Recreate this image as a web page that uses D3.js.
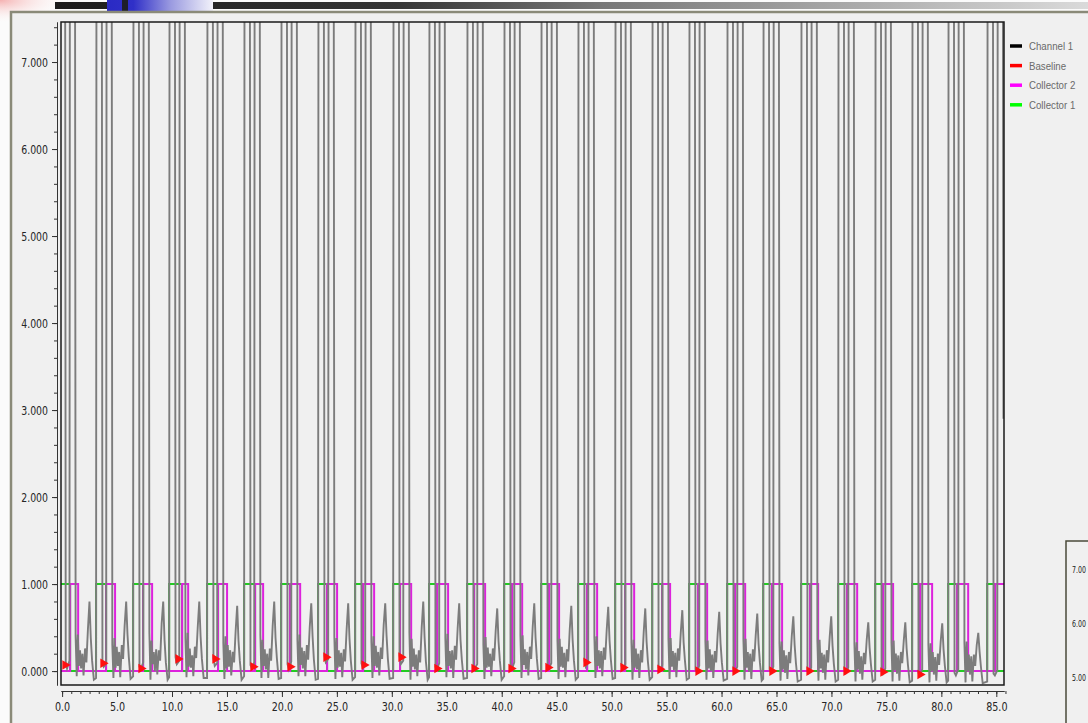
<!DOCTYPE html>
<html><head><meta charset="utf-8">
<script src="https://cdn.jsdelivr.net/npm/d3@7"></script>
<style>
html,body{margin:0;padding:0;background:#fff;}
svg{display:block;}
</style></head><body>
<svg id="chart" width="1088" height="723"></svg>
<script>
// ---------- data ----------
const yTickValues = [0, 1, 2, 3, 4, 5, 6, 7];
const xTickValues = [0, 5, 10, 15, 20, 25, 30, 35, 40, 45, 50, 55, 60, 65, 70, 75, 80, 85];
const legendNames = ["Channel 1", "Baseline", "Collector 2", "Collector 1"];
const legendColors = ["#000000", "#ff0000", "#ff00ff", "#00ff00"];
const insetLabels = ["7.00", "6.00", "5.00"];

// start of each collection cycle (Collector 1 switching on)
const cycleStart = [-0.25, 3.09, 6.46, 9.74, 13.19, 16.56, 19.93, 23.29, 26.66, 30.12, 33.39, 36.85, 40.22,
  43.59, 46.95, 50.32, 53.69, 57.05, 60.51, 63.79, 67.24, 70.61, 73.98, 77.34, 80.62, 84.17];
const collector1Off = [0.73, 4.00, 7.37, 10.92, 14.19, 17.56, 20.75, 24.11, 27.39, 30.75, 34.12, 37.49, 40.95,
  44.31, 47.77, 51.23, 54.60, 57.87, 61.24, 64.60, 68.06, 71.43, 74.70, 78.07, 81.44, 84.90];
const collector2Off = [1.46, 4.82, 8.19, 11.47, 15.01, 18.29, 21.66, 25.02, 28.39, 31.76, 35.12, 38.49, 41.86,
  45.22, 48.68, 52.05, 55.32, 58.69, 62.15, 65.51, 68.79, 72.34, 75.61, 79.16, 82.44, 85.80];

// sample times inside a cycle (relative to its start) for Channel 1 readings
const sampleOffsets = [0.00, 0.04, 0.52, 0.58, 0.70, 0.92, 0.96, 1.42, 1.48, 1.58, 1.68, 1.78, 1.88, 1.98,
  2.10, 2.20, 2.34, 2.46, 2.60, 2.74, 2.86, 2.98, 3.14];
// Channel 1 readings, one row per cycle (values above 7.46 run off the top of the chart)
const channel1 = [
  [-0.08,9,9,0.10,0.03,0.12,9,9,0.40,-0.06,0.42,0.06,0.24,0.03,0.20,-0.05,0.26,0.10,0.48,0.80,0.38,0.12,-0.10],
  [-0.08,9,9,0.12,0.05,0.08,9,9,0.30,-0.08,0.38,0.04,0.28,0.06,0.22,-0.07,0.30,0.14,0.52,0.80,0.42,0.16,-0.09],
  [-0.06,9,9,0.05,0.02,0.10,9,9,0.45,-0.10,0.35,0.08,0.22,0.00,0.25,-0.04,0.24,0.12,0.55,0.80,0.36,0.10,-0.10],
  [-0.07,9,9,0.16,0.08,0.12,9,9,0.38,-0.07,0.44,0.05,0.26,0.04,0.18,-0.06,0.28,0.15,0.50,0.80,0.40,0.14,-0.08],
  [-0.08,9,9,0.15,0.06,0.09,9,9,0.32,-0.09,0.40,0.03,0.30,0.05,0.24,-0.05,0.22,0.10,0.46,0.75,0.35,0.12,-0.10],
  [-0.06,9,9,0.07,0.03,0.10,9,9,0.42,-0.08,0.36,0.06,0.25,0.02,0.20,-0.08,0.26,0.12,0.52,0.80,0.38,0.15,-0.09],
  [-0.08,9,9,0.08,0.02,0.11,9,9,0.36,-0.06,0.42,0.07,0.27,0.03,0.23,-0.06,0.30,0.13,0.50,0.78,0.40,0.13,-0.10],
  [-0.09,9,9,0.18,0.10,0.14,9,9,0.40,-0.09,0.38,0.04,0.24,0.05,0.21,-0.07,0.25,0.11,0.48,0.78,0.37,0.12,-0.10],
  [-0.07,9,9,0.09,0.04,0.10,9,9,0.34,-0.08,0.40,0.06,0.29,0.04,0.22,-0.05,0.27,0.14,0.53,0.78,0.41,0.14,-0.09],
  [-0.08,9,9,0.18,0.08,0.12,9,9,0.44,-0.10,0.37,0.05,0.26,0.02,0.19,-0.06,0.24,0.10,0.50,0.80,0.39,0.11,-0.10],
  [-0.07,9,9,0.05,0.02,0.09,9,9,0.38,-0.07,0.43,0.06,0.23,0.03,0.24,-0.08,0.29,0.13,0.49,0.78,0.36,0.13,-0.09],
  [-0.08,9,9,0.05,0.03,0.08,9,9,0.30,-0.09,0.39,0.04,0.27,0.05,0.20,-0.06,0.26,0.12,0.46,0.72,0.34,0.12,-0.10],
  [-0.06,9,9,0.05,0.02,0.10,9,9,0.41,-0.08,0.41,0.07,0.25,0.02,0.22,-0.05,0.28,0.14,0.51,0.78,0.38,0.14,-0.09],
  [-0.08,9,9,0.06,0.03,0.09,9,9,0.35,-0.09,0.37,0.05,0.28,0.04,0.21,-0.07,0.25,0.11,0.48,0.75,0.36,0.12,-0.10],
  [-0.07,9,9,0.12,0.05,0.10,9,9,0.39,-0.08,0.40,0.06,0.24,0.03,0.23,-0.06,0.27,0.13,0.47,0.74,0.35,0.13,-0.09],
  [-0.08,9,9,0.06,0.02,0.08,9,9,0.33,-0.10,0.36,0.04,0.26,0.02,0.20,-0.08,0.24,0.10,0.45,0.72,0.34,0.11,-0.10],
  [-0.07,9,9,0.04,0.01,0.07,9,9,0.37,-0.09,0.38,0.05,0.23,0.01,0.21,-0.07,0.26,0.12,0.44,0.70,0.33,0.12,-0.10],
  [-0.08,9,9,0.02,0.00,0.06,9,9,0.34,-0.10,0.35,0.03,0.25,0.00,0.19,-0.08,0.23,0.10,0.43,0.68,0.32,0.10,-0.11],
  [-0.09,9,9,0.02,-0.01,0.05,9,9,0.36,-0.10,0.37,0.04,0.22,-0.01,0.20,-0.09,0.25,0.11,0.41,0.66,0.31,0.10,-0.11],
  [-0.09,9,9,0.02,-0.01,0.05,9,9,0.32,-0.11,0.34,0.02,0.24,-0.02,0.18,-0.09,0.22,0.09,0.40,0.63,0.30,0.09,-0.12],
  [-0.10,9,9,0.02,-0.02,0.04,9,9,0.35,-0.11,0.36,0.03,0.21,-0.02,0.19,-0.10,0.24,0.10,0.39,0.63,0.29,0.08,-0.12],
  [-0.10,9,9,0.02,-0.02,0.04,9,9,0.31,-0.12,0.33,0.02,0.23,-0.03,0.17,-0.10,0.21,0.08,0.36,0.56,0.27,0.08,-0.12],
  [-0.10,9,9,0.01,-0.03,0.03,9,9,0.33,-0.12,0.35,0.01,0.20,-0.03,0.18,-0.11,0.22,0.09,0.35,0.56,0.26,0.07,-0.13],
  [-0.11,9,9,-0.02,-0.04,0.02,9,9,0.30,-0.13,0.32,0.00,0.22,-0.04,0.16,-0.11,0.20,0.07,0.34,0.55,0.25,0.06,-0.13],
  [-0.11,9,9,-0.02,-0.05,0.02,9,9,0.32,-0.13,0.34,0.00,0.19,-0.04,0.17,-0.12,0.19,0.06,0.30,0.44,0.22,0.05,-0.14],
  [-0.12,9,9,-0.03,-0.05,0.01,9,9,2.90,null,null,null,null,null,null,null,null,null,null,null,null,null,null]
];

// Baseline markers
const baselineT = [0.27, 3.73, 7.19, 10.56, 13.92, 17.38, 20.75, 24.02, 27.48, 30.85, 34.12, 37.49, 40.86,
  44.22, 47.68, 51.05, 54.41, 57.87, 61.24, 64.60, 67.97, 71.34, 74.70, 78.07];
const baselineV = [0.07, 0.09, 0.03, 0.14, 0.14, 0.05, 0.05, 0.16, 0.07, 0.16, 0.03, 0.03, 0.03,
  0.04, 0.10, 0.04, 0.02, 0.00, 0.00, 0.00, 0.00, 0.00, -0.01, -0.04];

// ---------- layout ----------
const W = 1088, H = 723;
const plot = {left: 61, right: 1004, top: 22, bottom: 685};
const x = d3.scaleLinear().domain([-0.1, 85.7]).range([plot.left, plot.right]);
const y = d3.scaleLinear().domain([-0.16, 7.46]).range([plot.bottom, plot.top]);
const FONT = "'DejaVu Sans Condensed','Liberation Sans Narrow',sans-serif";
const LEGEND_FONT = "'Liberation Sans',Arial,sans-serif";

// squeeze text horizontally (the original uses a narrow UI font)
function squeeze(sel, f) {
  sel.each(function () {
    const w = this.getComputedTextLength();
    this.setAttribute("textLength", (w * f).toFixed(2));
    this.setAttribute("lengthAdjust", "spacingAndGlyphs");
  });
}

const svg = d3.select("#chart");
const defs = svg.append("defs");

// page background & decorations
svg.append("rect").attr("width", W).attr("height", H).attr("fill", "#fbfbfb");
const pink = defs.append("radialGradient").attr("id", "pink").attr("cx", 0).attr("cy", 0).attr("r", 1)
  .attr("gradientUnits", "objectBoundingBox");
pink.append("stop").attr("offset", "0%").attr("stop-color", "#f4a8a8").attr("stop-opacity", 0.9);
pink.append("stop").attr("offset", "100%").attr("stop-color", "#ffffff").attr("stop-opacity", 0);
svg.append("rect").attr("x", 0).attr("y", 0).attr("width", 70).attr("height", 24).attr("fill", "url(#pink)");

const bar = defs.append("linearGradient").attr("id", "bar");
[[0, "#1c1c1c"], [0.33, "#343434"], [0.53, "#777777"], [1, "#dadada"]].forEach(s =>
  bar.append("stop").attr("offset", s[0]).attr("stop-color", s[1]));
svg.append("rect").attr("x", 55).attr("y", 2).attr("width", W - 55).attr("height", 7).attr("fill", "url(#bar)");
const blue = defs.append("linearGradient").attr("id", "blue");
[[0, "#2a2ac4"], [0.25, "#3030c8"], [0.6, "#9a9ae0"], [1, "#f2f2fa"]].forEach(s =>
  blue.append("stop").attr("offset", s[0]).attr("stop-color", s[1]));
svg.append("rect").attr("x", 107).attr("y", 0).attr("width", 106).attr("height", 11).attr("fill", "url(#blue)");
svg.append("rect").attr("x", 122).attr("y", 0).attr("width", 6).attr("height", 11).attr("fill", "#1e1e2a");

// panel
svg.append("rect").attr("x", 11).attr("y", 12).attr("width", W - 11).attr("height", H - 12).attr("fill", "#f0f0f0");
svg.append("path").attr("d", `M11,${H}V12H${W}`).attr("fill", "none").attr("stroke", "#8a8a78").attr("stroke-width", 2.5);

// clip
defs.append("clipPath").attr("id", "clip").append("rect")
  .attr("x", plot.left).attr("y", plot.top).attr("width", plot.right - plot.left).attr("height", plot.bottom - plot.top);

const g = svg.append("g").attr("clip-path", "url(#clip)");
const line = d3.line().defined(d => d[1] !== null).x(d => x(d[0])).y(d => y(d[1]));

// collectors (step traces)
function stepPoints(onArr, offArr) {
  const pts = [[-0.1, 0]];
  onArr.forEach((on, i) => { pts.push([on, 0], [on, 1], [offArr[i], 1], [offArr[i], 0]); });
  pts.push([85.7, 0]);
  return pts;
}
g.append("path").attr("d", line(stepPoints(cycleStart, collector1Off)))
  .attr("fill", "none").attr("stroke", "#22cc22").attr("stroke-width", 2);
g.append("path").attr("d", line(stepPoints(collector1Off, collector2Off)))
  .attr("fill", "none").attr("stroke", "#dd22dd").attr("stroke-width", 2);

// Channel 1
const chPts = [];
channel1.forEach((row, i) => row.forEach((v, j) => chPts.push([cycleStart[i] + sampleOffsets[j], v])));
g.append("path").attr("d", line(chPts)).attr("fill", "none")
  .attr("stroke", "#7c7c7c").attr("stroke-width", 1.9).attr("stroke-linejoin", "miter");

// Baseline markers
const tri = d3.symbol().type(d3.symbolTriangle).size(40);
g.selectAll(".bl").data(baselineT).join("path")
  .attr("d", tri)
  .attr("transform", (d, i) => `translate(${x(d)},${y(baselineV[i])}) rotate(90)`)
  .attr("fill", "#ff1010");

// plot frame
svg.append("rect").attr("x", plot.left).attr("y", plot.top)
  .attr("width", plot.right - plot.left).attr("height", plot.bottom - plot.top)
  .attr("fill", "none").attr("stroke", "#1a1a1a").attr("stroke-width", 1.5);

// axes
function styleAxis(sel) {
  sel.selectAll("text").attr("font-family", FONT).attr("font-size", 13).attr("fill", "#262626");
  sel.selectAll("line,path").attr("stroke", "#333");
}
const yMinor = d3.range(0, 7.5, 0.2).filter(v => v <= 7.46);
svg.append("g").attr("transform", "translate(57,0)")
  .call(d3.axisLeft(y).tickValues(yMinor).tickSize(3).tickSizeOuter(0).tickFormat(""))
  .call(styleAxis);
const yAx = svg.append("g").attr("transform", "translate(57,0)")
  .call(d3.axisLeft(y).tickValues(yTickValues).tickSize(5).tickSizeOuter(0).tickPadding(4)
    .tickFormat(d3.format(",.3f")))
  .call(styleAxis);
squeeze(yAx.selectAll("text"), 0.8);

const xMinor = d3.range(0, 86, 5 / 6);
svg.append("g").attr("transform", "translate(0,691)")
  .call(d3.axisBottom(x).tickValues(xMinor).tickSize(3).tickSizeOuter(0).tickFormat(""))
  .call(styleAxis);
const xAx = svg.append("g").attr("transform", "translate(0,691)")
  .call(d3.axisBottom(x).tickValues(xTickValues).tickSize(6).tickSizeOuter(0).tickPadding(5)
    .tickFormat(d3.format(".1f")))
  .call(styleAxis);
squeeze(xAx.selectAll("text"), 0.82);

// legend
const leg = svg.append("g");
legendNames.forEach((n, i) => {
  const ly = 46 + i * 19.6;
  leg.append("line").attr("x1", 1010).attr("x2", 1022).attr("y1", ly).attr("y2", ly)
    .attr("stroke", legendColors[i]).attr("stroke-width", 3.5);
  leg.append("text").attr("x", 1029).attr("y", ly + 4).text(n)
    .attr("font-family", LEGEND_FONT).attr("font-size", 11).attr("fill", "#6a6a6a");
});
squeeze(leg.selectAll("text"), 0.88);

// partial inset at bottom right
svg.append("rect").attr("x", 1066).attr("y", 541).attr("width", 40).attr("height", 200)
  .attr("fill", "#f0f0f0").attr("stroke", "#4a4a3a").attr("stroke-width", 1.5);
const ins = svg.append("g");
insetLabels.forEach((t, i) => {
  ins.append("text").attr("x", 1072).attr("y", 573 + i * 54).text(t)
    .attr("font-family", FONT).attr("font-size", 8.5).attr("fill", "#222");
});
ins.selectAll("text").attr("textLength", 14).attr("lengthAdjust", "spacingAndGlyphs");
</script>
</body></html>
